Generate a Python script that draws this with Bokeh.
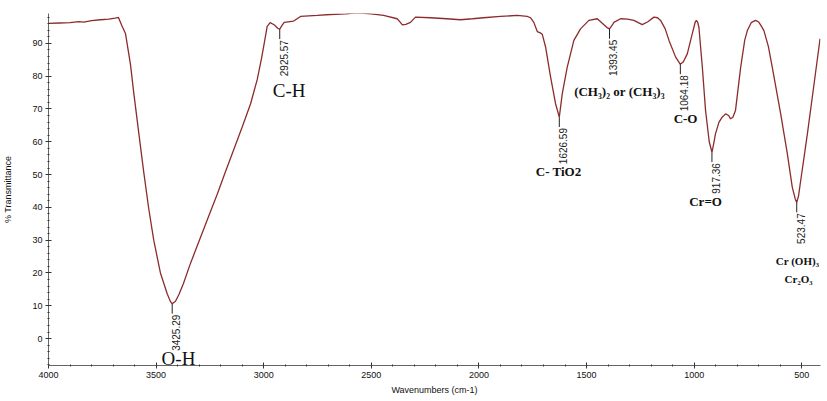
from bokeh.plotting import figure
from bokeh.models import Range1d, SingleIntervalTicker, ColumnDataSource, Label
from bokeh.core.properties import value
from bokeh.embed import file_html
from bokeh.resources import INLINE

# ---- data ----
wavenumber = [4000, 3950, 3900, 3860, 3836, 3800, 3758, 3720, 3690, 3675, 3660, 3642, 3619, 3604,
              3580, 3557, 3534, 3511, 3480, 3448, 3435, 3425.29, 3410, 3395, 3373, 3340, 3294,
              3250, 3216, 3180, 3140, 3100, 3061, 3030, 3010, 2995, 2984, 2970, 2950, 2935, 2925.57,
              2915, 2905, 2861, 2829, 2751, 2690, 2620, 2566, 2500, 2443, 2380, 2365, 2356, 2340,
              2318, 2295, 2225, 2150, 2086, 2030, 1979, 1900, 1822, 1776, 1760, 1745, 1729, 1715,
              1706, 1690, 1667, 1644, 1626.59, 1613, 1590, 1559, 1528, 1489, 1450, 1427, 1405,
              1393.45, 1380, 1373, 1342, 1310, 1280, 1260, 1241, 1215, 1187, 1170, 1156, 1135,
              1117, 1086, 1064.18, 1050, 1032, 1009, 995, 990, 984, 978, 962, 947, 930, 917.36,
              909, 901, 885, 870, 854, 840, 831, 820, 808, 784, 765, 753, 735, 715, 700, 690, 676,
              655, 637, 598, 567, 544, 530, 523.47, 515, 505, 490, 474, 443, 415]
transmittance = [96.1, 96.2, 96.3, 96.6, 96.5, 96.9, 97.2, 97.4, 97.7, 97.9, 95.5, 92.9, 83.5, 75.0,
                 62.4, 50.5, 39.5, 30.0, 20.0, 13.6, 11.5, 10.6, 11.4, 13.3, 16.8, 23.0, 30.8,
                 38.3, 44.0, 50.5, 57.5, 64.5, 71.6, 79.0, 85.5, 91.0, 95.2, 96.3, 95.6, 94.6, 94.3,
                 95.5, 96.4, 96.8, 98.2, 98.5, 98.8, 99.0, 99.3, 99.0, 98.5, 97.5, 96.4, 95.6, 95.8,
                 96.4, 98.0, 97.8, 97.5, 97.2, 97.5, 97.8, 98.2, 98.5, 98.2, 97.8, 96.4, 93.6, 93.2,
                 92.8, 88.8, 79.7, 71.6, 67.5, 74.6, 82.7, 90.9, 94.4, 97.0, 97.5, 96.1, 94.8,
                 94.4, 95.6, 96.4, 97.5, 97.4, 97.0, 96.3, 95.7, 96.6, 98.0, 97.8, 97.0, 94.5,
                 90.9, 85.8, 83.6, 84.4, 86.8, 92.9, 96.5, 97.0, 96.5, 94.9, 82.7, 69.5, 60.0, 56.8,
                 59.5, 62.4, 65.9, 67.5, 68.5, 68.0, 67.0, 67.5, 69.5, 82.7, 91.0, 93.9, 96.3, 97.0,
                 96.5, 95.5, 93.9, 89.0, 82.7, 68.5, 56.3, 46.1, 42.5, 41.5, 43.5, 48.2, 55.0, 62.4,
                 77.6, 91.4]

peak_wn = [3425.29, 2925.57, 1626.59, 1393.45, 1064.18, 917.36, 523.47]
peak_T = [10.6, 94.3, 67.5, 94.4, 83.6, 56.8, 41.5]
peak_text = ["3425.29", "2925.57", "1626.59", "1393.45", "1064.18", "917.36", "523.47"]

group_text = ["O-H", "C-H", "C- TiO2", "(CH\u2083)\u2082 or (CH\u2083)\u2083", "C-O", "Cr=O",
              "Cr (OH)\u2083", "Cr\u2082O\u2083"]

x_ticks_interval = 500
y_ticks_interval = 10

# ---- figure ----
p = figure(width=827, height=401, x_range=Range1d(4000, 413), y_range=Range1d(-8.2, 99.1),
           output_backend="svg", toolbar_location=None,
           min_border_left=48, min_border_right=7, min_border_top=13, min_border_bottom=36)
p.outline_line_color = None
p.xgrid.visible = False
p.ygrid.visible = False
p.background_fill_color = "white"
p.border_fill_color = "white"

p.xaxis.ticker = SingleIntervalTicker(interval=x_ticks_interval, num_minor_ticks=5)
p.yaxis.ticker = SingleIntervalTicker(interval=y_ticks_interval, num_minor_ticks=5)

for ax in (p.xaxis, p.yaxis):
    ax.axis_line_color = "#666666"
    ax.major_tick_line_color = "#333333"
    ax.minor_tick_line_color = "#333333"
    ax.major_tick_in = 3
    ax.major_tick_out = 3
    ax.minor_tick_in = 1
    ax.minor_tick_out = 1
    ax.major_label_text_font = "Liberation Sans"
    ax.major_label_text_font_size = "9px"
    ax.major_label_text_color = "#111111"
    ax.axis_label_text_font = "Liberation Sans"
    ax.axis_label_text_font_size = "9px"
    ax.axis_label_text_font_style = "normal"
    ax.axis_label_text_color = "#111111"

p.xaxis.axis_label = "Wavenumbers (cm-1)"
p.yaxis.axis_label = "% Transmittance"
p.xaxis.major_label_standoff = 3
p.xaxis.axis_label_standoff = 4
p.yaxis.major_label_standoff = 3
p.yaxis.axis_label_standoff = 16

# spectrum
p.line(wavenumber, transmittance, line_color="#8c2b2b", line_width=1.3)

# peak markers
pk = ColumnDataSource(dict(x=peak_wn, y0=peak_T, y1=[t - 3.0 for t in peak_T], lbl=peak_text))
p.segment(x0="x", y0="y0", x1="x", y1="y1", source=pk, line_color="#222222", line_width=1)
p.text(x="x", y="y1", text="lbl", source=pk, angle=1.5708, text_align="right",
       text_baseline="middle", x_offset=4, y_offset=1,
       text_font=value("Liberation Sans"), text_font_size="10px", text_color="#222222")

# group annotations (center x, baseline y in data units)
group_pos = [(3396, -6.0, "19px", "normal"), (2882, 75.6, "19px", "normal"),
             (1630, 50.9, "13px", "bold"), (1347, 75.3, "13px", "bold"),
             (1040, 67.0, "13px", "bold"), (947, 41.7, "13px", "bold"),
             (520, 23.7, "11px", "bold"), (515, 18.3, "11px", "bold")]
for txt, (gx, gy, fs, st) in zip(group_text, group_pos):
    p.add_layout(Label(x=gx, y=gy, text=txt, text_align="center", text_baseline="alphabetic",
                       text_font="Liberation Serif", text_font_size=fs, text_font_style=st,
                       text_color="#111111"))

open("out.html", "w").write(file_html(p, INLINE))
